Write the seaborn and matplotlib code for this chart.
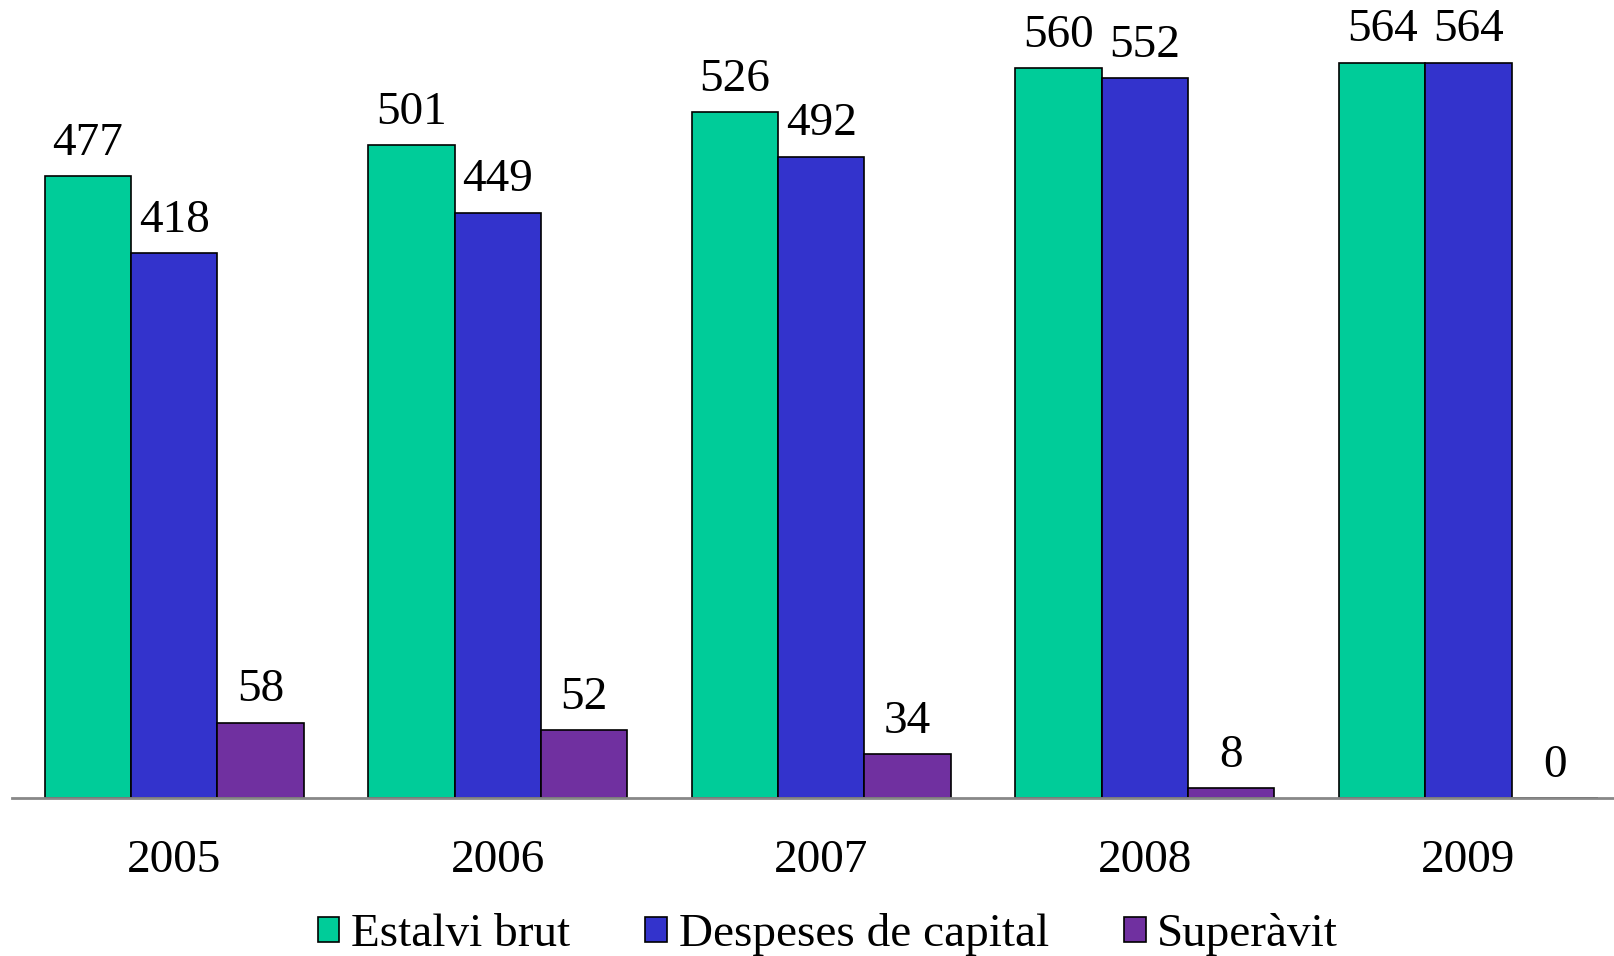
import matplotlib
matplotlib.use("Agg")
import matplotlib.pyplot as plt
import seaborn as sns
import pandas as pd

years = ["2005", "2006", "2007", "2008", "2009"]
series = ["Estalvi brut", "Despeses de capital", "Superàvit"]
estalvi_brut = [477, 501, 526, 560, 564]
despeses_capital = [418, 449, 492, 552, 564]
superavit = [58, 52, 34, 8, 0]
colors = ["#00CC99", "#3333CC", "#7030A0"]

df = pd.DataFrame({
    "year": years * 3,
    "serie": [series[0]] * 5 + [series[1]] * 5 + [series[2]] * 5,
    "value": estalvi_brut + despeses_capital + superavit,
})

sns.set_theme(style="white")
plt.rcParams["font.family"] = ["Liberation Serif", "DejaVu Serif"]
plt.rcParams["text.color"] = "black"
plt.rcParams["xtick.color"] = "black"

fig = plt.figure(figsize=(16.14, 9.56), dpi=100)
ax = fig.add_axes([0.0077, 0.165, 0.9923, 0.835])

sns.barplot(data=df, x="year", y="value", hue="serie", palette=colors,
            width=0.8, edgecolor="black", linewidth=1.2, ax=ax, saturation=1)

for c in ax.containers:
    ax.bar_label(c, fmt="%d", padding=8, fontsize=34, color="black")

ax.set_ylim(0, 612)
ax.set_xlim(-0.5, 4.45)
ax.set_yticks([])
ax.set_xlabel("")
ax.set_ylabel("")
ax.tick_params(axis="x", length=0, labelsize=34, pad=30, labelcolor="black")
for s in ["top", "left", "right"]:
    ax.spines[s].set_visible(False)
ax.spines["bottom"].set_color("#888888")
ax.spines["bottom"].set_linewidth(2)

ax.legend_.remove()
handles, labels = ax.get_legend_handles_labels()
leg = fig.legend(handles, labels, loc="center", bbox_to_anchor=(0.513, 0.022), ncol=3,
                 frameon=False, fontsize=34, handlelength=0.45, handleheight=0.45,
                 handletextpad=0.25, columnspacing=1.6)
for t in leg.get_texts():
    t.set_color("black")

fig.savefig("out.png", dpi=100)
